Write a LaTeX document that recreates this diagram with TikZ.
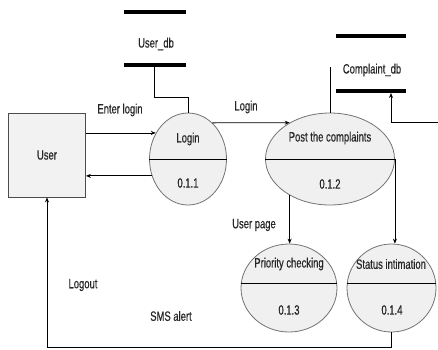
\documentclass[tikz,border=0pt]{standalone}
\usepackage{fontspec}
\setmainfont[FakeStretch=0.7,FakeBold=0.4]{Liberation Sans}
\usetikzlibrary{shapes.geometric,arrows.meta}
\begin{document}
\begin{tikzpicture}[x=1pt,y=-1pt,
  proc/.style={ellipse,draw=black!55,fill=black!6,line width=0.8pt,inner sep=0pt},
  lbl/.style={font=\fontsize{13.5}{15}\selectfont,text=black!85,inner sep=0pt},
  conn/.style={line width=0.8pt},
  arr/.style={conn,-{Stealth[length=5pt,width=4pt]}},
  bar/.style={line width=3.5pt}]
\useasboundingbox (0,0) rectangle (438,349);
% external entity
\node[draw=black!70,fill=black!5,line width=0.8pt,minimum width=77pt,minimum height=84pt,inner sep=0pt,font=\fontsize{13.5}{15}\selectfont,text=black!85] (user) at (47,155) {User};
% processes
\node[proc,minimum width=77pt,minimum height=92pt] (l1) at (188,159) {};
\node[proc,minimum width=129pt,minimum height=92pt] (p2) at (330,159) {};
\node[proc,minimum width=96pt,minimum height=88pt] (p3) at (289,288) {};
\node[proc,minimum width=89pt,minimum height=88pt] (p4) at (391.5,288) {};
\draw[conn] (l1.west) -- (l1.east);
\draw[conn] (p2.west) -- (p2.east);
\draw[conn] ([yshift=5pt]p3.west) -- ([yshift=5pt]p3.east);
\draw[conn] ([yshift=5pt]p4.west) -- ([yshift=5pt]p4.east);
\node[lbl] (l1a) at (188,139) {Login};
\node[lbl] (l1b) at (188,183) {0.1.1};
\node[lbl] (p2a) at (330,138) {Post the complaints};
\node[lbl] (p2b) at (330,184) {0.1.2};
\node[lbl] (p3a) at (289,264) {Priority checking};
\node[lbl] (p3b) at (289,310) {0.1.3};
\node[lbl] (p4a) at (391,264) {Status intimation};
\node[lbl] (p4b) at (392,310) {0.1.4};
% data stores
\draw[bar] (124,12) -- (186,12);
\draw[bar] (124,65) -- (186,65);
\node[lbl] (udb) at (156,44) {User\_db};
\draw[bar] (336,36) -- (406,36);
\draw[bar] (336,91) -- (406,91);
\node[lbl] (cdb) at (372,70) {Complaint\_db};
\coordinate (udbb) at (154,66.5);
\coordinate (pt) at (330,67);
\coordinate (cdbb) at (391,93);
\coordinate (cj) at (391,122);
\coordinate (cr) at (438,122);
% flows
\draw[conn] (udbb) -- (udbb |- 0,97) -- (l1.north |- 0,97) -- (l1.north);
\draw[arr] (user.east |- l1.141) -- (l1.141);
\draw[arr] (l1.205) -- (user.east |- l1.205);
\draw[arr] (l1.56) -- (p2.138);
\draw[conn] (p2.north) -- (pt);
\draw[arr] (cr) -- (cj) -- (cdbb);
\draw[arr] (p2.222) -- (p2.222 |- p3.north);
\draw[arr] (p2.east) -- (p2.east |- p4.north);
\draw[arr] (p4.south) -- (p4.south |- 0,347) -- (user.south |- 0,347) -- (user.south);
% flow labels
\node[lbl] (t1) at (120,110) {Enter login};
\node[lbl] (t2) at (246,107) {Login};
\node[lbl] (t3) at (254,225) {User page};
\node[lbl] (t4) at (83,285) {Logout};
\node[lbl] (t5) at (171,316) {SMS alert};
\end{tikzpicture}
\end{document}
